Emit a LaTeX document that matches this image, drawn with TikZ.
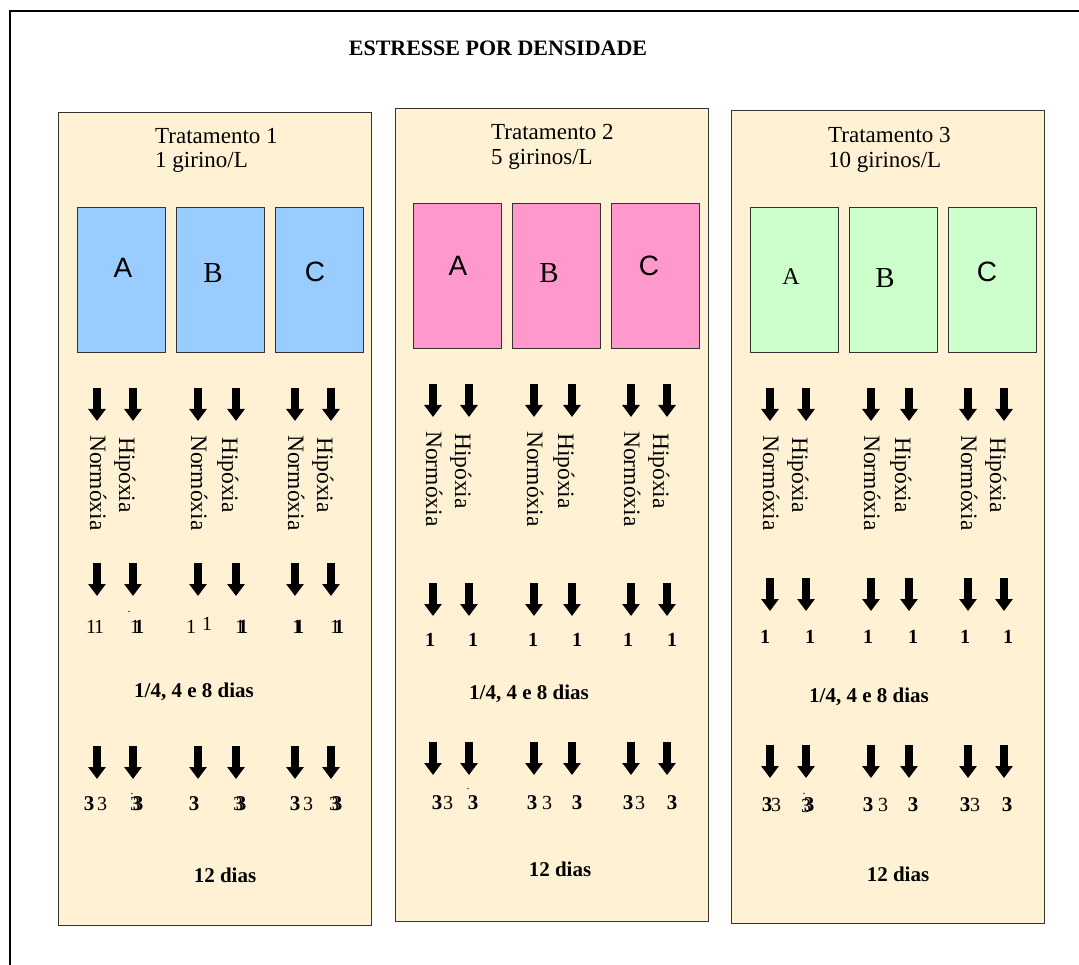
\documentclass[tikz,border=0pt]{standalone}
\usepackage{fontspec}
\setmainfont{Liberation Serif}
\newfontfamily\arialfont{Liberation Sans}
\usepackage{xcolor}
\definecolor{paneltan}{RGB}{255,242,212}
\definecolor{tankblue}{RGB}{153,204,255}
\definecolor{tankpink}{RGB}{255,153,204}
\definecolor{tankgreen}{RGB}{204,255,204}
\usetikzlibrary{arrows.meta,positioning}
\newcommand{\fsz}[1]{\fontsize{#1}{#1}\selectfont}

\begin{document}
\begin{tikzpicture}[x=1pt,y=-1pt,
  panel/.style={draw=black!80,line width=0.9pt,fill=paneltan,anchor=north west,
    minimum width=313pt,minimum height=813pt,inner sep=0pt},
  tank/.style={draw=black!80,line width=0.7pt,anchor=north west,
    minimum width=88pt,minimum height=145pt,inner sep=0pt},
  downarrow/.style={line width=8pt,-{Triangle[width=17pt,length=12pt]}},
  vlabel/.style={rotate=-90,anchor=base west,inner sep=0pt,font=\fsz{23.5}},
  head/.style={anchor=base west,inner sep=0pt,font=\fsz{23}},
  digit/.style={anchor=base,inner sep=0pt,font=\fsz{20}},
  days/.style={inner sep=0pt,font=\fsz{21}\bfseries}]
  \useasboundingbox (0,0) rectangle (1079,965);
  % outer frame, open on the right and bottom
  \draw[line width=2pt] (10,965) -- (10,11) -- (1079,11);
  \node[inner sep=0pt,font=\fsz{22}\bfseries] (title) at (498,48) {ESTRESSE POR DENSIDADE};

  % three treatments: panel, tanks A B C and the arrow rows
  \foreach \p/\px/\py/\bx/\by/\tc/\ra/\rb/\rc in {
    1/58/112/77/207/tankblue/388/563/746,
    2/395/108/413/203/tankpink/384/583/742,
    3/731/110/750/207/tankgreen/388/578/745}{
    \node[panel] (panel\p) at (\px,\py) {};
    \foreach \k/\da/\db in {0/20/56,1/22/60,2/20/56}{
      \node[tank,fill=\tc] (tank\p\k) at (\bx+99*\k,\by) {};
      \foreach \r in {\ra,\rb,\rc}{
        \draw[downarrow] (\bx+99*\k+\da,\r) -- ++(0,33);
        \draw[downarrow] (\bx+99*\k+\db,\r) -- ++(0,33);
      }
      \node[vlabel] (norm\p\k) at (\bx+99*\k+\da-7,\ra+47) {Normóxia};
      \node[vlabel] (hip\p\k) at (\bx+99*\k+\db-14,\ra+49) {Hipóxia};
    }
  }

  % headings
  \node[head] (trat1) at (155,144) {Tratamento 1};
  \node[head] (dens1) at (155,168) {1 girino/L};
  \node[head] (trat2) at (491,140) {Tratamento 2};
  \node[head] (dens2) at (491,165) {5 girinos/L};
  \node[head] (trat3) at (828,143) {Tratamento 3};
  \node[head] (dens3) at (828,168) {10 girinos/L};

  % tank letters
  \node[font=\fsz{28}\arialfont] (la1) at (123,268) {A};
  \node[font=\fsz{29}] (lb1) at (213,273) {B};
  \node[font=\fsz{28}\arialfont] (lc1) at (315,272) {C};
  \node[font=\fsz{28}\arialfont] (la2) at (458,266) {A};
  \node[font=\fsz{29}] (lb2) at (549,273) {B};
  \node[font=\fsz{28}\arialfont] (lc2) at (649,266) {C};
  \node[font=\fsz{24}] (la3) at (791,277) {A};
  \node[font=\fsz{29}] (lb3) at (885,278) {B};
  \node[font=\fsz{28}\arialfont] (lc3) at (987,272) {C};

  % sampling labels
  \foreach \x/\y [count=\i] in {91/633,99/633,135/633,191/633,207/630,240/633,297/633,335/633}
    \node[digit] (onen\i) at (\x,\y) {1};
  \foreach \x/\y [count=\i] in {139/633,243/633,299/633,339/633,
    430/646,473/646,533/646,577/646,628/646,672/646,
    765/643,810/643,868/643,913/643,965/643,1008/643}
    \node[digit,font=\fsz{20}\bfseries] (oneb\i) at (\x,\y) {1};
  \foreach \x/\y [count=\i] in {102/810,135/810,238/810,308/810,334/810,
    448/809,547/809,640/809,776/811,806/812,883/811,975/811}
    \node[digit] (threen\i) at (\x,\y) {3};
  \foreach \x/\y [count=\i] in {89/810,138/810,194/810,241/810,295/810,337/810,
    437/809,473/809,532/809,577/809,628/809,672/809,
    767/811,809/811,868/811,913/811,965/811,1007/811}
    \node[digit,font=\fsz{21}\bfseries] (threeb\i) at (\x,\y) {3};
  \foreach \x/\y [count=\i] in {129/612,132/794,468/789,804/794}
    \node[digit,font=\fsz{12}] (dot\i) at (\x,\y) {.};

  \node[days] (d1a) at (194,692) {1/4, 4 e 8 dias};
  \node[days] (d2a) at (529,694) {1/4, 4 e 8 dias};
  \node[days] (d3a) at (869,697) {1/4, 4 e 8 dias};
  \node[days] (d1b) at (225,875) {12 dias};
  \node[days] (d2b) at (560,869) {12 dias};
  \node[days] (d3b) at (898,874) {12 dias};
\end{tikzpicture}
\end{document}
